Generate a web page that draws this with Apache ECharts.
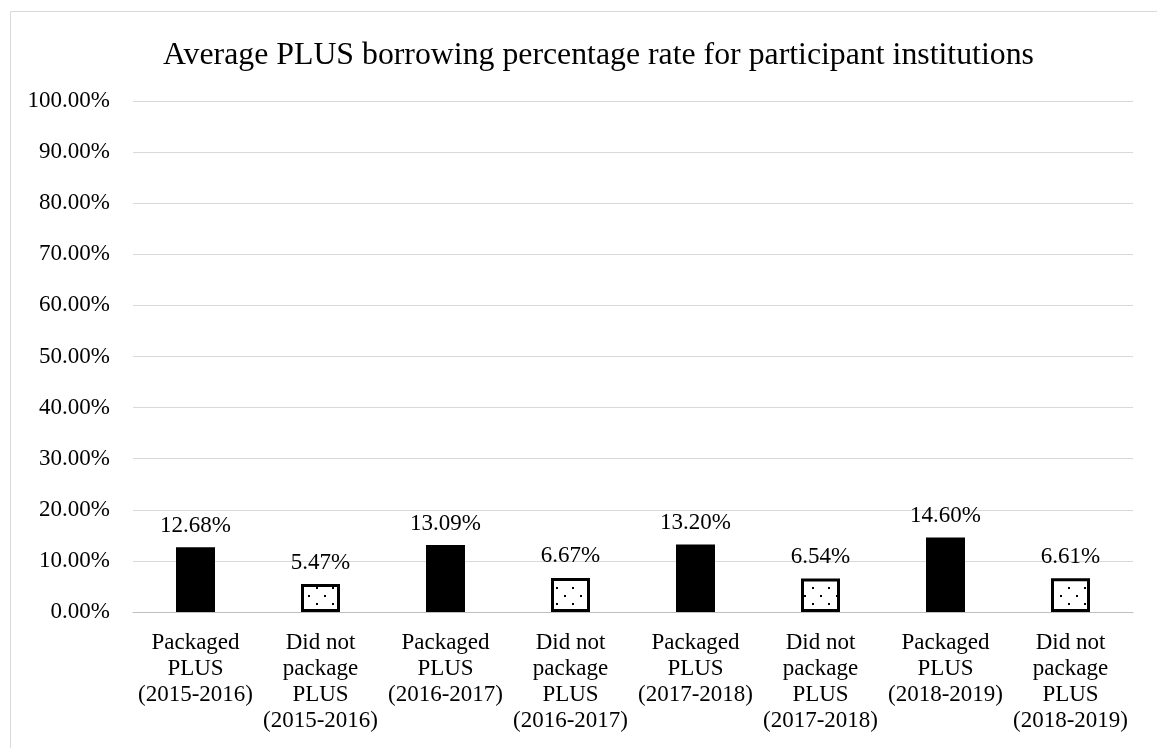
<!DOCTYPE html>
<html>
<head>
<meta charset="utf-8">
<script src="https://cdn.jsdelivr.net/npm/echarts@6/dist/echarts.min.js"></script>
<style>
  html, body { margin: 0; padding: 0; background: #fff; }
  #chart { width: 1157px; height: 748px; }
</style>
</head>
<body>
<div id="chart"></div>
<script>
const categories = [
  "Packaged\nPLUS\n(2015-2016)",
  "Did not\npackage\nPLUS\n(2015-2016)",
  "Packaged\nPLUS\n(2016-2017)",
  "Did not\npackage\nPLUS\n(2016-2017)",
  "Packaged\nPLUS\n(2017-2018)",
  "Did not\npackage\nPLUS\n(2017-2018)",
  "Packaged\nPLUS\n(2018-2019)",
  "Did not\npackage\nPLUS\n(2018-2019)",
];
const rates = [12.68, 5.47, 13.09, 6.67, 13.2, 6.54, 14.6, 6.61];
const packaged = [true, false, true, false, true, false, true, false];

const serif = "'Liberation Serif', 'Times New Roman', serif";

// dotted fill for the "did not package" bars
function dots() {
  const c = document.createElement("canvas");
  c.width = 16;
  c.height = 16;
  const g = c.getContext("2d");
  g.fillStyle = "#fff";
  g.fillRect(0, 0, 16, 16);
  g.fillStyle = "#000";
  g.fillRect(4, 3, 2, 2);
  g.fillRect(12, 11, 2, 2);
  return c;
}
const dotFill = { image: dots(), repeat: "repeat" };

const chart = echarts.init(document.getElementById("chart"));

chart.setOption({
  animation: false,
  title: {
    text: "Average PLUS borrowing percentage rate for participant institutions",
    left: 158,
    top: 35,
    textStyle: { fontFamily: serif, fontSize: 31.8, fontWeight: "normal", color: "#000" },
  },
  graphic: [{
    type: "rect",
    shape: { x: 10.5, y: 11.5, width: 1200, height: 800 },
    style: { fill: "none", stroke: "#d9d9d9", lineWidth: 1 },
    silent: true,
  }],
  grid: { left: 133, right: 24, top: 101, bottom: 136 },
  xAxis: {
    type: "category",
    data: categories,
    axisLine: { lineStyle: { color: "#bfbfbf", width: 1 } },
    axisTick: { show: false },
    axisLabel: {
      interval: 0,
      fontFamily: serif,
      fontSize: 23,
      lineHeight: 26,
      color: "#000",
      margin: 18,
    },
  },
  yAxis: {
    type: "value",
    min: 0,
    max: 100,
    interval: 10,
    axisLine: { show: false },
    axisTick: { show: false },
    splitLine: { lineStyle: { color: "#d9d9d9", width: 1 } },
    axisLabel: {
      formatter: (v) => v.toFixed(2) + "%",
      fontFamily: serif,
      fontSize: 23,
      color: "#000",
      margin: 23,
    },
  },
  series: [{
    type: "bar",
    barWidth: 39,
    data: rates.map((v, i) => ({
      value: v,
      itemStyle: packaged[i]
        ? { color: "#000" }
        : { color: dotFill, borderColor: "#000", borderWidth: 3 },
    })),
    label: {
      show: true,
      position: "top",
      distance: 10,
      formatter: (p) => p.value.toFixed(2) + "%",
      fontFamily: serif,
      fontSize: 23,
      color: "#000",
    },
  }],
});
</script>
</body>
</html>
